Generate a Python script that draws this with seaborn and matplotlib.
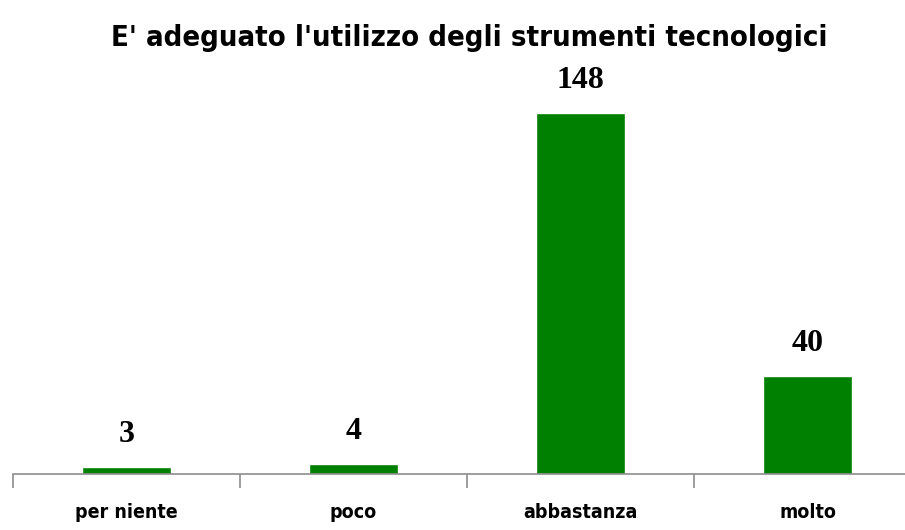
import matplotlib
matplotlib.use("Agg")
import matplotlib.pyplot as plt
import seaborn as sns
import pandas as pd

# data
categories = ["per niente", "poco", "abbastanza", "molto"]
values = [3, 4, 148, 40]
title = "E' adeguato l'utilizzo degli strumenti tecnologici"

df = pd.DataFrame({"risposta": categories, "n": values})

sns.set_style("white")
plt.rcParams['font.family'] = ['DejaVu Sans']

fig = plt.figure(figsize=(9.05, 5.3), dpi=100)
ax = fig.add_axes([13 / 905, 1 - 474 / 530, 908 / 905, 160 * 2.44 / 530])  # axis runs off right edge

sns.barplot(data=df, x="risposta", y="n", color="#008000", saturation=1, width=0.39, ax=ax)
ax.set_ylim(0, 160)
ax.set_xlim(-0.5, 3.5)

# value labels above bars
ax.bar_label(ax.containers[0], labels=[str(v) for v in values], padding=13,
             fontsize=23, fontweight='bold', family='Liberation Serif', color='black')

# only the bottom line, with ticks between categories
for s in ["top", "right", "left"]:
    ax.spines[s].set_visible(False)
ax.spines["bottom"].set_color("#8c8c8c")
ax.spines["bottom"].set_linewidth(1.2)
ax.set_yticks([])
ax.set_xticks(range(len(categories)))
ax.set_xticklabels(categories, fontsize=14, fontweight='bold', fontstretch='condensed', color='black')
ax.tick_params(axis='x', which='major', length=0, pad=21)
ax.set_xticks([-0.5, 0.5, 1.5, 2.5], minor=True)
ax.tick_params(axis='x', which='minor', bottom=True, length=10, width=1.2, color="#8c8c8c", direction='out')
ax.set_xlabel("")
ax.set_ylabel("")

fig.text(469 / 905, 1 - 38 / 530, title, ha='center', va='center', fontsize=21,
         fontweight='bold', fontstretch='condensed', color='black')

plt.savefig("out.png", dpi=100)
